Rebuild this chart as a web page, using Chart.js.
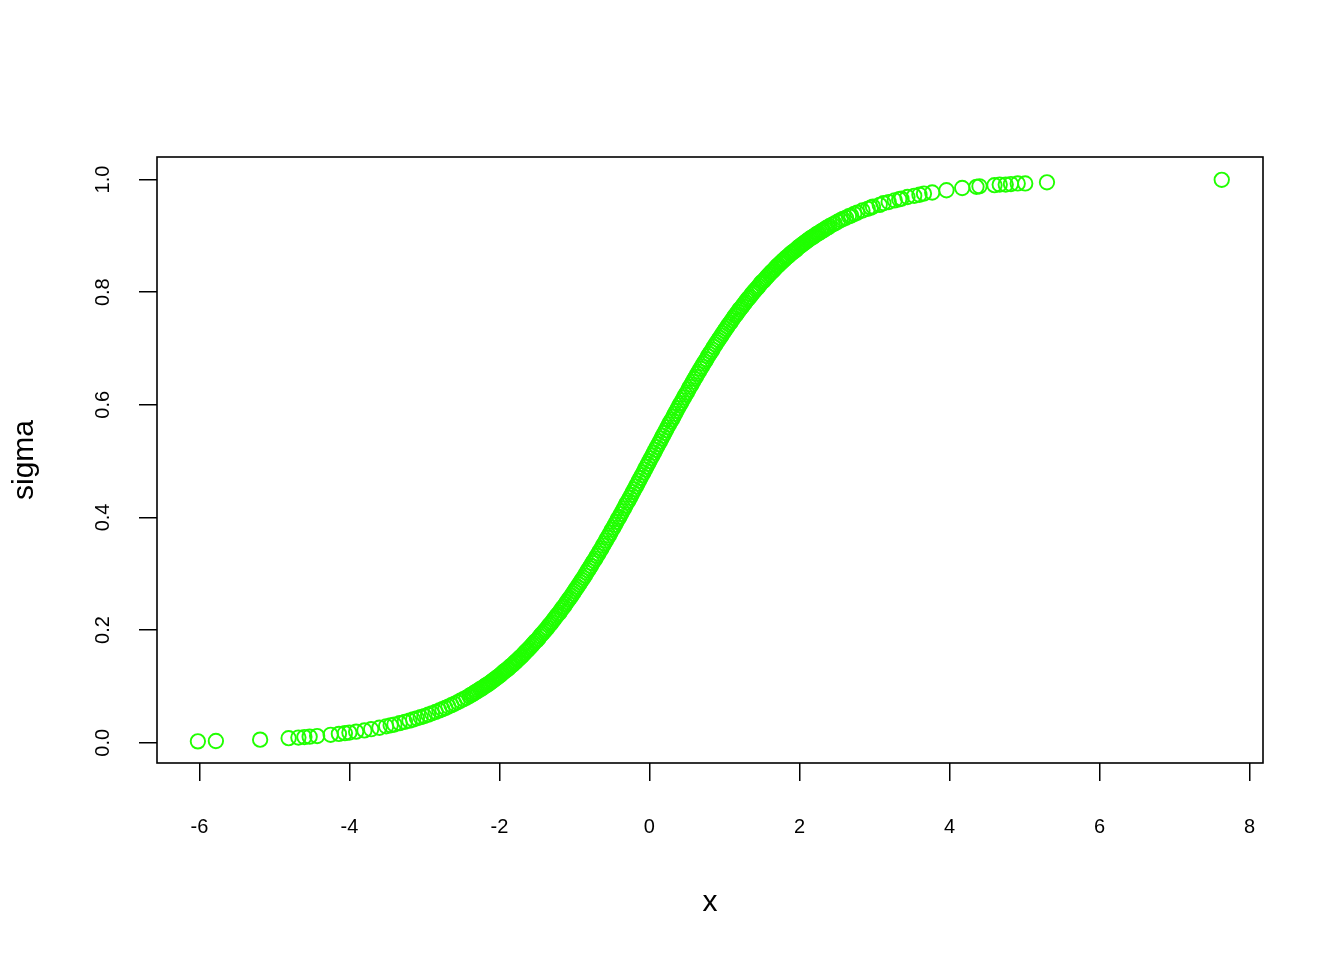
<!DOCTYPE html>
<html>
<head>
<meta charset="utf-8">
<script src="https://cdn.jsdelivr.net/npm/chart.js@4.4.1/dist/chart.umd.min.js"></script>
<style>
  html, body { margin: 0; padding: 0; background: #ffffff; }
  #wrap { width: 1344px; height: 960px; position: relative; }
</style>
</head>
<body>
<div id="wrap"><canvas id="c" width="1344" height="960"></canvas></div>
<script>
// ---- data ----
const xLow = [-6.02,-5.78,-5.19,-4.81,-4.68,
  -4.60,-4.53,-4.43,-4.25,-4.14,
  -4.06,-4.00,-3.91,-3.80,-3.71,
  -3.60,-3.51,-3.45,-3.40,-3.33,
  -3.26,-3.20,-3.15,-3.10,-3.05,
  -3.00,-2.95,-2.90,-2.85,-2.80,
  -2.76,-2.72,-2.68,-2.64,-2.60,
  -2.56,-2.52,-2.48,-2.44];
const yLow = [0.0024,0.0031,0.0055,0.0081,0.0092,
  0.0100,0.0107,0.0118,0.0141,0.0157,
  0.0170,0.0180,0.0197,0.0219,0.0240,
  0.0266,0.0292,0.0309,0.0323,0.0347,
  0.0371,0.0392,0.0412,0.0433,0.0454,
  0.0474,0.0498,0.0522,0.0547,0.0573,
  0.0596,0.0618,0.0642,0.0667,0.0691,
  0.0718,0.0745,0.0773,0.0800];

const xMidNeg = [
  -2.40,-2.38,-2.36,-2.34,-2.32, -2.30,-2.28,-2.26,-2.24,-2.22,
  -2.20,-2.18,-2.16,-2.14,-2.12, -2.10,-2.08,-2.06,-2.04,-2.02,
  -2.00,-1.98,-1.96,-1.94,-1.92, -1.90,-1.88,-1.86,-1.84,-1.82,
  -1.80,-1.78,-1.76,-1.74,-1.72, -1.70,-1.68,-1.66,-1.64,-1.62,
  -1.60,-1.58,-1.56,-1.54,-1.52, -1.50,-1.48,-1.46,-1.44,-1.42,
  -1.40,-1.38,-1.36,-1.34,-1.32, -1.30,-1.28,-1.26,-1.24,-1.22,
  -1.20,-1.18,-1.16,-1.14,-1.12, -1.10,-1.08,-1.06,-1.04,-1.02,
  -1.00,-0.98,-0.96,-0.94,-0.92, -0.90,-0.88,-0.86,-0.84,-0.82,
  -0.80,-0.78,-0.76,-0.74,-0.72, -0.70,-0.68,-0.66,-0.64,-0.62,
  -0.60,-0.58,-0.56,-0.54,-0.52, -0.50,-0.48,-0.46,-0.44,-0.42,
  -0.40,-0.38,-0.36,-0.34,-0.32, -0.30,-0.28,-0.26,-0.24,-0.22,
  -0.20,-0.18,-0.16,-0.14,-0.12, -0.10,-0.08,-0.06,-0.04,-0.02];
const yMidNeg = [
  0.083,0.085,0.086,0.088,0.090, 0.091,0.093,0.095,0.096,0.098,
  0.100,0.102,0.103,0.105,0.107, 0.109,0.111,0.113,0.115,0.117,
  0.119,0.121,0.124,0.126,0.128, 0.130,0.132,0.135,0.137,0.139,
  0.142,0.144,0.147,0.149,0.152, 0.154,0.157,0.160,0.163,0.165,
  0.168,0.171,0.174,0.177,0.180, 0.182,0.185,0.189,0.192,0.195,
  0.198,0.201,0.204,0.208,0.211, 0.214,0.218,0.221,0.225,0.228,
  0.231,0.235,0.239,0.242,0.246, 0.250,0.254,0.257,0.261,0.265,
  0.269,0.273,0.277,0.281,0.285, 0.289,0.293,0.297,0.302,0.306,
  0.310,0.314,0.319,0.323,0.327, 0.332,0.336,0.341,0.345,0.350,
  0.354,0.359,0.364,0.368,0.373, 0.378,0.382,0.387,0.392,0.397,
  0.401,0.406,0.411,0.416,0.421, 0.426,0.430,0.435,0.440,0.445,
  0.450,0.455,0.460,0.465,0.470, 0.475,0.480,0.485,0.490,0.495];

const xCenter = [0.00];
const yCenter = [0.500];

const xMidPos = [
  0.02,0.04,0.06,0.08,0.10, 0.12,0.14,0.16,0.18,0.20,
  0.22,0.24,0.26,0.28,0.30, 0.32,0.34,0.36,0.38,0.40,
  0.42,0.44,0.46,0.48,0.50, 0.52,0.54,0.56,0.58,0.60,
  0.62,0.64,0.66,0.68,0.70, 0.72,0.74,0.76,0.78,0.80,
  0.82,0.84,0.86,0.88,0.90, 0.92,0.94,0.96,0.98,1.00,
  1.02,1.04,1.06,1.08,1.10, 1.12,1.14,1.16,1.18,1.20,
  1.22,1.24,1.26,1.28,1.30, 1.32,1.34,1.36,1.38,1.40,
  1.42,1.44,1.46,1.48,1.50, 1.52,1.54,1.56,1.58,1.60,
  1.62,1.64,1.66,1.68,1.70, 1.72,1.74,1.76,1.78,1.80,
  1.82,1.84,1.86,1.88,1.90, 1.92,1.94,1.96,1.98,2.00,
  2.02,2.04,2.06,2.08,2.10, 2.12,2.14,2.16,2.18,2.20,
  2.22,2.24,2.26,2.28,2.30, 2.32,2.34,2.36,2.38,2.40];
const yMidPos = [
  0.505,0.510,0.515,0.520,0.525, 0.530,0.535,0.540,0.545,0.550,
  0.555,0.560,0.565,0.570,0.574, 0.579,0.584,0.589,0.594,0.599,
  0.603,0.608,0.613,0.618,0.622, 0.627,0.632,0.636,0.641,0.646,
  0.650,0.655,0.659,0.664,0.668, 0.673,0.677,0.681,0.686,0.690,
  0.694,0.698,0.703,0.707,0.711, 0.715,0.719,0.723,0.727,0.731,
  0.735,0.739,0.743,0.746,0.750, 0.754,0.758,0.761,0.765,0.769,
  0.772,0.775,0.779,0.782,0.786, 0.789,0.792,0.796,0.799,0.802,
  0.805,0.808,0.811,0.815,0.818, 0.820,0.823,0.826,0.829,0.832,
  0.835,0.837,0.840,0.843,0.846, 0.848,0.851,0.853,0.856,0.858,
  0.861,0.863,0.865,0.868,0.870, 0.872,0.874,0.876,0.879,0.881,
  0.883,0.885,0.887,0.889,0.891, 0.893,0.895,0.897,0.898,0.900,
  0.902,0.904,0.905,0.907,0.909, 0.910,0.912,0.914,0.915,0.917];

const xHigh = [2.44,2.47,2.51,2.55,2.58,
  2.62,2.66,2.69,2.73,2.77,
  2.84,2.91,2.95,2.98,3.07,
  3.12,3.19,3.27,3.33,3.36,
  3.44,3.53,3.60,3.66,3.77,
  3.96,4.17,4.36,4.40,4.60,
  4.67,4.75,4.82,4.91,5.01,
  5.30,7.63];
const yHigh = [0.920,0.922,0.925,0.928,0.930,
  0.932,0.935,0.936,0.939,0.941,
  0.945,0.948,0.950,0.952,0.955,
  0.958,0.960,0.963,0.965,0.966,
  0.969,0.971,0.973,0.975,0.977,
  0.981,0.985,0.987,0.988,0.990,
  0.991,0.991,0.992,0.993,0.993,
  0.995,0.9995];

const xTicks = [-6, -4, -2, 0, 2, 4, 6, 8];
const yTicks = [0.0, 0.2, 0.4, 0.6, 0.8, 1.0];
const xTitle = 'x';
const yTitle = 'sigma';

// ---- build points ----
const xs = [].concat(xLow, xMidNeg, xCenter, xMidPos, xHigh);
const ys = [].concat(yLow, yMidNeg, yCenter, yMidPos, yHigh);
const points = xs.map((x, i) => ({ x: x, y: ys[i] }));

const FONT = "'Liberation Sans', Arial, Helvetica, sans-serif";

const boxPlugin = {
  id: 'rbox',
  afterDraw(chart) {
    const a = chart.chartArea;
    const ctx = chart.ctx;
    ctx.save();
    ctx.strokeStyle = '#000';
    ctx.lineWidth = 1.6;
    ctx.strokeRect(a.left, a.top, a.right - a.left, a.bottom - a.top);
    ctx.restore();
  }
};

new Chart(document.getElementById('c'), {
  type: 'scatter',
  data: {
    datasets: [{
      data: points,
      pointStyle: 'circle',
      pointRadius: 7.2,
      pointBorderWidth: 1.9,
      borderColor: 'rgb(32,255,0)',
      backgroundColor: 'rgba(0,0,0,0)',
      pointBackgroundColor: 'rgba(0,0,0,0)',
      pointBorderColor: 'rgb(32,255,0)'
    }]
  },
  options: {
    responsive: false,
    devicePixelRatio: 1,
    animation: false,
    events: [],
    layout: { padding: { top: 157, right: 81, bottom: 0, left: 0 } },
    plugins: { legend: { display: false }, tooltip: { enabled: false } },
    scales: {
      x: {
        type: 'linear',
        min: -6.565,
        max: 8.18,
        afterBuildTicks: s => { s.ticks = xTicks.map(v => ({ value: v })); },
        afterFit: s => { s.height = 197; },
        border: { display: false },
        grid: { display: true, drawOnChartArea: false, drawTicks: true, tickLength: 18, color: '#000', lineWidth: 1.5 },
        ticks: {
          color: '#000', padding: 34, maxRotation: 0, minRotation: 0, autoSkip: false,
          font: { family: FONT, size: 20 },
          callback: v => String(v)
        },
        title: {
          display: true, text: xTitle, color: '#000',
          font: { family: FONT, size: 30, lineHeight: 1 },
          padding: { top: 0, bottom: 42 }
        }
      },
      y: {
        type: 'linear',
        min: -0.036,
        max: 1.040,
        afterBuildTicks: s => { s.ticks = yTicks.map(v => ({ value: v })); },
        afterFit: s => { s.width = 157; },
        border: { display: false },
        grid: { display: true, drawOnChartArea: false, drawTicks: true, tickLength: 18, color: '#000', lineWidth: 1.5 },
        ticks: {
          color: '#000', padding: 22, minRotation: 90, maxRotation: 90, crossAlign: 'center', autoSkip: false,
          font: { family: FONT, size: 20 },
          callback: v => Number(v).toFixed(1)
        },
        title: {
          display: true, text: yTitle, color: '#000',
          font: { family: FONT, size: 30, lineHeight: 1 },
          padding: { top: 10, bottom: 0 }
        }
      }
    }
  },
  plugins: [boxPlugin]
});
</script>
</body>
</html>
